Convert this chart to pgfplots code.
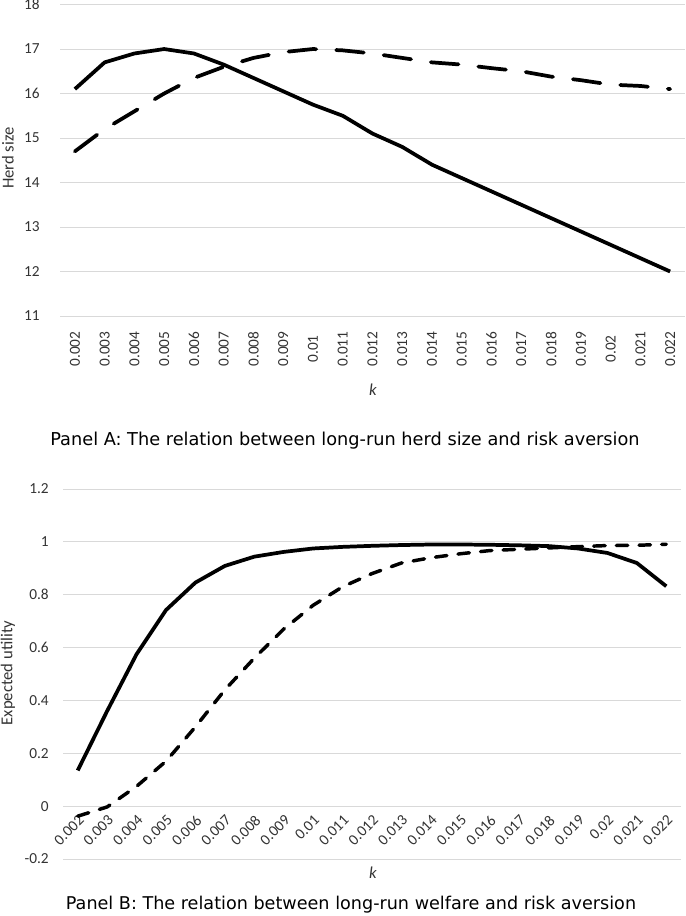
\documentclass[border=0pt]{standalone}
\usepackage{fontspec}
\setmainfont{Carlito}
\newfontfamily\capfont{DejaVu Sans}
\usepackage{pgfplots}
\pgfplotsset{compat=1.18}

\definecolor{gridgray}{RGB}{217,217,217}

\pgfplotsset{
  excelstyle/.style={
    scale only axis,
    anchor=south west,
    xmin=-0.5, xmax=20.5,
    xtick={0,...,20},
    xticklabels={0.002,0.003,0.004,0.005,0.006,0.007,0.008,0.009,0.01,0.011,0.012,0.013,0.014,0.015,0.016,0.017,0.018,0.019,0.02,0.021,0.022},
    ymajorgrids,
    grid style={gridgray, line width=0.75pt},
    major tick length=0pt,
    axis line style={draw=none},
    tick label style={font=\fontsize{11.5}{13}\selectfont, text=black!80},
    /pgf/number format/assume math mode=true,
    clip=false,
  },
  solidline/.style={black, line width=2.8pt, line join=round},
}

\begin{document}
\begin{tikzpicture}
\useasboundingbox (0,0) rectangle (513.75pt,-687pt);
\coordinate (A) at (45pt,-237pt);
\coordinate (B) at (47.25pt,-644.25pt);

% Panel A
\begin{axis}[excelstyle,
  at={(A)}, width=468.75pt, height=233.6pt,
  ymin=11, ymax=18, ytick={11,...,18},
  yticklabel style={anchor=east, inner sep=0pt, xshift=-15pt},
  xticklabel style={rotate=90, anchor=center},
  xticklabel shift=24.75pt,
]
\addplot[solidline] coordinates {
  (0,16.1) (1,16.7) (2,16.9) (3,17.0) (4,16.9) (5,16.65) (6,16.35)
  (7,16.05) (8,15.75) (9,15.5) (10,15.1) (11,14.8) (12,14.4) (13,14.1)
  (14,13.8) (15,13.5) (16,13.2) (17,12.9) (18,12.6) (19,12.3) (20,12.0)
};
\addplot[black, line width=2.8pt, line cap=round, line join=round,
  dash pattern=on 20.8pt off 15pt] coordinates {
  (0,14.7) (1,15.2) (2,15.6) (3,16.0) (4,16.35) (5,16.6) (6,16.8)
  (7,16.93) (8,17.0) (9,16.97) (10,16.9) (11,16.8) (12,16.7) (13,16.65)
  (14,16.57) (15,16.5) (16,16.38) (17,16.3) (18,16.2) (19,16.17) (20,16.1)
};
\end{axis}

% Panel B
\begin{axis}[excelstyle,
  at={(B)}, width=463.5pt, height=277.5pt,
  ymin=-0.2, ymax=1.2, ytick={-0.2,0,0.2,0.4,0.6,0.8,1,1.2},
  axis x line=middle, axis y line=left,
  axis line style={draw=none, -},
  hide obscured x ticks=false, hide obscured y ticks=false,
  yticklabel style={anchor=east, inner sep=0pt, xshift=-10.5pt},
  xticklabel style={rotate=45, anchor=east, inner sep=0pt, xshift=4pt},
  xticklabel shift=11.5pt,
]
\addplot[solidline] coordinates {
  (0,0.135) (1,0.36) (2,0.575) (3,0.742) (4,0.846) (5,0.909) (6,0.944)
  (7,0.962) (8,0.975) (9,0.981) (10,0.985) (11,0.988) (12,0.99) (13,0.99)
  (14,0.989) (15,0.987) (16,0.984) (17,0.975) (18,0.958) (19,0.92) (20,0.832)
};
\addplot[black, line width=2.6pt, line cap=round, line join=round,
  dash pattern=on 8.6pt off 8.4pt] coordinates {
  (0,-0.038) (1,-0.003) (2,0.075) (3,0.17) (4,0.30) (5,0.44) (6,0.56)
  (7,0.67) (8,0.76) (9,0.83) (10,0.88) (11,0.92) (12,0.94) (13,0.955)
  (14,0.967) (15,0.972) (16,0.977) (17,0.982) (18,0.986) (19,0.987) (20,0.991)
};
\end{axis}

% titles
\node[rotate=90, font=\fontsize{12.5}{14}\selectfont, text=black!80] at (6pt,-118.5pt) {Herd size};
\node[rotate=90, font=\fontsize{12.5}{14}\selectfont, text=black!80] at (6pt,-504.75pt) {Expected utility};
\node[font=\fontsize{12.5}{14}\selectfont\itshape, text=black!80] at (279.75pt,-292.5pt) {k};
\node[font=\fontsize{12.5}{14}\selectfont\itshape, text=black!80] at (279.75pt,-654.75pt) {k};
\node[font=\capfont\fontsize{13.3}{15}\selectfont] at (258.75pt,-330.75pt) {Panel A: The relation between long-run herd size and risk aversion};
\node[font=\capfont\fontsize{13.2}{15}\selectfont] at (263.25pt,-678.75pt) {Panel B: The relation between long-run welfare and risk aversion};
\end{tikzpicture}
\end{document}
